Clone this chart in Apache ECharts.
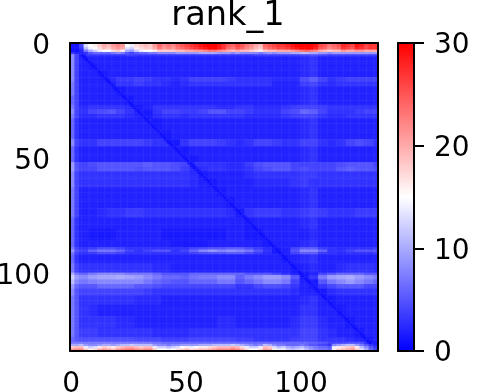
<!DOCTYPE html>
<html>
<head>
<meta charset="utf-8">
<style>html,body{margin:0;padding:0;background:#fff}#main{width:478px;height:392px}</style>
<script src="https://cdn.jsdelivr.net/npm/echarts@6/dist/echarts.min.js"></script>
</head>
<body>
<div id="main"></div>
<script>
var titleText = "rank_1";
var cellCount = 134;
var tickEvery = 50;
var colorMin = 0, colorMax = 30, colorStep = 10;

// top rows, read every 2 columns (0,2,4...132)
var rowTop0 = [1,1,4,13,15,16,18,20,19,21,22,21,15,14,17,18,19,18,21,24,22,23,22,24,25,26,27,28,29,30,30,30,29,27,25,24,26,25,23,22,20,19,24,25,26,27,27,28,29,30,30,30,30,29,26,25,23,24,25,28,27,26,29,28,26,27,27];
var rowTop2 = [1,1,3,11,14,15,17,19,18,20,21,20,13,12,16,17,18,18,20,23,21,22,21,23,24,25,26,27,28,29,30,30,29,27,24,23,25,24,22,21,19,18,23,24,25,26,26,27,28,29,30,30,30,28,25,24,22,23,24,27,26,25,28,27,26,27,27];
var rowTop3 = [1,1,2,7,10,12,14,15,15,17,18,16,10,9,12,14,15,15,16,18,18,18,18,19,19,20,20,21,21,22,23,23,22,21,20,19,20,19,19,18,17,16,18,19,19,20,20,20,21,22,23,24,23,22,20,19,18,19,19,21,20,20,21,21,20,20,20];
var rowTop4 = [3,2,2,3,5,6,6,6,6,7,8,7,5,4,5,6,6,7,7,8,8,8,8,9,9,9,9,9,10,10,10,10,9,9,9,8,9,8,8,8,8,7,8,9,8,9,9,9,10,10,11,11,10,10,9,9,8,9,9,9,9,9,9,9,9,9,9];

// bottom rows, same column step
var rowBottom131 = [10,10,11,9,8,8,9,10,10,9,10,11,11,12,11,11,11,11,9,8,8,7,8,8,9,9,9,9,10,10,10,11,11,11,11,12,11,10,9,8,7,8,11,10,8,7,7,6,6,6,7,6,5,5,4,4,3,8,9,10,11,11,9,7,5,3,2];
var rowBottom132 = [18,19,19,14,12,13,16,18,17,16,18,19,20,20,19,18,19,19,14,12,12,11,12,13,15,16,14,15,16,16,17,18,19,19,19,20,19,17,14,12,12,14,19,18,13,11,12,10,9,10,11,9,8,7,6,6,5,14,16,17,18,19,16,11,8,5,3];
var rowBottom133 = [21,22,22,18,16,17,20,21,20,19,21,22,23,23,22,21,22,22,18,15,15,14,15,17,18,19,17,18,19,19,20,21,22,22,22,23,22,20,17,15,15,17,21,20,16,14,14,12,11,12,13,11,9,8,7,7,6,16,18,19,20,21,18,13,10,6,4];

// body of the matrix: first row of each block of rows
var bodyRowStarts = [5,6,9,12,15,17,19,23,27,29,31,33,38,42,45,49,52,54,56,59,63,67,72,76,81,86,89,90,91,92,96,100,101,103,105,107,110,114,119,124,128,130];
// first column of each block of columns
var bodyColStarts = [0,2,4,8,12,16,20,24,28,32,36,40,44,48,52,56,60,64,68,72,76,80,84,88,92,96,100,104,108,112,116,120,124,128,132];
var bodyRows = [
[8,4,3,3,3,3,3,3.5,3,3,3,3,3,3,3,3,3,3,3,3,3,3.5,3.5,3.5,3.5,3.5,4,4.5,4,3.5,3.5,3.5,3.5,3.5,3.5],
[8,4,2,2,2,2,2,2,2,2,2,2,2,2,2,2,2,2,2,2,2,2,2,2,2,2,2.5,3,2,2,2,2,2,2,2],
[8,4,2,1.5,2,2,2,2,2,2,2,2,2,2,2,2,2,2,2,2,2,2,2,2,2,2,2.5,3,2,2,2,2,2,2,2],
[8,4,2,2,1.5,2,2,2,2,2,2,2,2,2,2,2,2,2,2,2,2,2,2,2,2,2,2.5,3,2,2,2,2,2,2,2],
[8,4,2,2,2,2.5,3.5,3.5,4,3.5,3,3,2.5,3,4,4,4,4,3.5,3,3,3,3,2.5,2.5,2.5,4.5,5.5,4,3,3.5,4,4,4,4],
[7,4,2,2,2,2,3,3,3.5,3,3,2.5,2,2.5,3,3,3,3,3,3,3,3,3,2,2,2,3.5,4,3,2.5,3,3,3,3,3],
[7,4,2,2,2,2,1.5,2,2,2,2,2,2,2,2,2,2,2,2,2,2,2,2,2,2,2,2.5,3,2,2,2,2,2,2,2],
[6,4,2,2,2,2,2,1.5,2,2,2,2,2,2,2,2,2,2,2,2,2,2,2,2,2,2,2.5,3,2,2,2,2,2,2,2],
[7,4,2.5,3,3,3,3,2.5,1.5,2,3,3,3,3,3,3,3,2.5,2.5,3,3,2.5,2.5,2.5,3,3.5,4,4,3.5,3,3,3,3,3,3],
[8,4,3,4,4.5,5,4,3,2,1.5,3,4,4,3.5,3.5,4,5,5,4,4,3.5,3,3,3,4,4.5,6,5.5,4,3,3,3,3.5,4,4],
[7,4,2.5,2.5,3,3,3,2.5,2,1.5,2.5,3,3,2.5,3,3,3,3,3,3,2.5,2.5,2.5,2.5,3,3.5,4,4,3,2.5,2.5,3,3,3,3],
[6,3,2,2,2,2,2,2,2,2,1.5,2,2,2,2,2,2,2,2,2,2,2,2,2,2,2,2.5,3,2,2,2,2,2,2,2],
[6,3,2,2,2,2,2,2,2,2,2,1.5,2,2,2,2,2,2,2,2,2,2,2,2,2,2,2.5,3,2,2,2,2,2,2,2],
[8,4,3,3,4,4,4,4,4,3.5,3,3,1.5,3,4,4,4,3.5,3,2.5,3,4,4,3.5,3,3,4,4,3,2.5,3,4,4.5,4,3],
[6,3,2,2,2,2,2,2,2,2,2,2,2,1.5,2,2,2,2,2,2,2,2,2,2,2,2,2.5,3,2,2,2,2,2,2,2],
[6,3,2,2,2,2,2,2,2,2,2,2,2,2,1.5,2,2,2,2,2,2,2,2,2,2,2,2.5,3,2,2,2,2,2,2,2],
[9,5,4,4.5,5,5,5,5,5,5.5,5,5,4.5,4,3,3,3,3,2.5,2.5,3.5,4.5,5,5,5,4,4,4,4,4,4.5,5,5,5,4],
[9,5,4,4,5,5,5,5,4.5,5,5,5,4.5,3.5,2.5,2.5,3,3,2.5,2.5,3,4,4.5,5,5,4,4.5,4,4,4,5,5.5,5,5,4.5],
[8,4,3,3,3,3,3,3,3,3,3,3,3,3,2.5,1.5,2,2,2,2,2.5,3,3,3,3,3,3.5,3.5,3,3,3,3,3,3,3],
[8,4,3,3,3,3,3,3,3,3,3,3,3,3,2.5,2,1.5,2,2,2,2,2.5,2.5,2.5,2.5,3,3.5,3,3,3,3,3,3,3,3],
[7,4,2,2,2,2,2,2,2,2,2,2,2,2,2,2,2,1.5,2,2,2,2,2,2,2,2,2.5,3,2,2,2,2,2,2,2],
[7,4,2,2,2,2,2,2,2,2,2,2,2,2,2,2,2,2,1.5,2,2,2,2,2,2,2,2.5,3,2,2,2,2,2,2,2],
[7,4,2,2,2.5,3,3,3.5,3.5,3,3,3,3,3,3,3,3,3,2.5,1.5,3,3.5,3.5,3.5,3,3,3.5,4,3.5,3,3,3,3.5,3.5,3.5],
[6,3,2,2,2,2,2,2,2,2,2,2,2,2,2,2,2,2,2,2,1.5,2,2,2,2,2,2.5,3,2,2,2,2,2,2,2],
[6,3,2,1.5,1.5,1.5,2,2,2,2,2,1.5,1.5,1.5,1.5,1.5,1.5,1.5,2,2,1.5,1.5,2,2,2,2,2,2.5,2,2,2,2,2,2,2],
[6,3,2,2,2,2,2,2,2,2,2,2,1.5,1.5,1.5,1.5,2,2,2,2,2,2,1.5,2,2,2,2.5,3,2,2,2,2,2,2,2],
[7,4,3,3.5,4.5,4.5,4,3,3,3,3,3,3,3,4,4.5,5,5,5.5,5.5,4.5,3.5,2.5,1.5,2,4,5.5,5.5,3.5,3,2.5,3,3,3,3.5],
[9,5,4,6,7,7,6,4,3,4,5,5,3,4,6,8,9,8,8.5,8,7,5,3,1.5,2,5,8,8,6,3,3,4,5,5,5],
[7,4,3,3.5,4.5,4.5,4,3,3,3,3,3,3,3,4,4.5,5,5,5.5,5.5,4.5,3.5,2.5,1.5,2,4,5.5,5.5,3.5,3,2.5,3,3,3,3.5],
[6,3,2,2,2,2,2,2,2,2,2,2,2,2,2,2,2,2,2,2,2,2,2,2,1.5,2,2.5,3,2,2,2,2,2,2,2],
[7,4,3,3,3,3,3,3,3,3,2.5,2.5,2,2,2,2,2,2,2,2,2,2,2,2,2,1.5,2,2.5,2,2,2.5,3,3,3,2.5],
[10,7,6,7,8,8,8,7,7,7,6,5,5,5,6,6,6,6,6,6,5,5,5,4,3,2,1.5,2,4,5,6,6,6,5,5],
[12,9,8,9,9.5,9.5,10,9.5,9,8,7,6,6,5.5,6.5,7,7,8,8,5.5,7,8,9,9,8,5,1.5,3,7,9,9.5,10,9,8,7],
[11,8,7,7.5,8,8,8,8,8,7,6,5.5,5,5,6,6,6,7,7,5,6,7,8,8,7,4,2,1.5,5,7,8,9,8,7,6],
[9,6,5,5,6,6,6,6,5,5,4.5,4,4,4,4,4,4,4,4,3,3,4,4.5,4.5,4,3,2,1.5,3,4,5,5,5,4,4],
[8,5,4,4,4,4,4,4,4,3.5,3,3,3,3,3,3,3,3,3,3,3,3,3,3,3,2.5,2,2,1.5,2.5,3,3,3,3,3],
[7,5,3,3,3,3,3,3,2.5,2.5,2.5,2,2,2,2,2,2,2,2,2,2,2,2,2,2,2,2.5,3,2,1.5,2,2,2,2,2],
[7,5,3,2.5,2,2,2,2,2,2,2,2,2,2,2,2,2,2,2,2,2,2,2,2,2,2,3,3,2,2,1.5,2,2,2,2],
[7,5,3,3,3,3,2.5,2.5,2,2,2,2,2,2,2,2,2,2.5,2.5,2,2,2,2,2,2,2.5,3.5,3.5,2.5,2,2,1.5,2,2,2],
[7,5,3.5,3.5,3,3,3,3,3,3,2.5,2.5,2.5,2.5,3,3,3,3,3,3,3,3,3,3,3,3,4,4,3,2.5,2,2,1.5,2,2],
[6,5,4.5,4.5,4.5,4.5,4.5,4.5,4,4,4,3.5,3.5,3.5,4,4,4,4,4,3.5,3.5,3,3,3,3,3.5,4,4,3,3,3,2.5,2,1.5,2],
[7,7,7,7,7,7,7,7,7,7,6.5,6,6,6,6,6,6,6,6,6,6,6,6,6,6,6,6,5.5,5,4,4,4.5,4.5,3,1.5]
];

// the dark line along the diagonal, read in steps of 10 rows
var diagonalLevels = [0.6,0.7,0.7,0.8,0.7,0.7,0.8,0.7,0.7,0.6,0.7,0.7,0.6,0.6];
var offDiagonalLevels = [1.5,1.6,1.6,1.7,1.6,1.6,1.7,1.6,1.5,1.5,1.5,1.6,1.6,1.5];

var chartData = [];
var labels = [];
for (var n = 0; n < cellCount; n++) labels.push(String(n));

function topOrBottomRow(r) {
	if (r < 2) return rowTop0;
	if (r == 2) return rowTop2;
	if (r == 3) return rowTop3;
	if (r == 4) return rowTop4;
	if (r == 131) return rowBottom131;
	if (r == 132) return rowBottom132;
	if (r == 133) return rowBottom133;
	return null;
}
function blockIndex(starts, v) {
	var k = 0;
	while (k + 1 < starts.length && starts[k + 1] <= v) k++;
	return k;
}
for (var r = 0; r < cellCount; r++) {
	var edgeRow = topOrBottomRow(r);
	for (var c = 0; c < cellCount; c++) {
		var v;
		if (edgeRow) {
			v = edgeRow[Math.floor(c / 2)];
		} else {
			v = bodyRows[blockIndex(bodyRowStarts, r)][blockIndex(bodyColStarts, c)];
			var band = Math.floor(r / 10);
			if (r == c) v = diagonalLevels[band];
			else if (Math.abs(r - c) == 1) v = offDiagonalLevels[band];
		}
		chartData.push([c, r, v]);
	}
}

var black = "#000";
var fontName = "DejaVu Sans";
function showTick(index) { return index % tickEvery == 0; }

var myChart = echarts.init(document.getElementById("main"), null, {renderer: "canvas"});
var option = {
	animation: false,
	backgroundColor: "#fff",
	title: {
		text: titleText,
		left: 223,
		top: -6,
		textAlign: "center",
		textStyle: {fontFamily: fontName, fontSize: 33.6, fontWeight: "normal", color: black}
	},
	grid: [
		{left: 70, top: 43, width: 308, height: 308, outerBoundsMode: "none"},
		{left: 398, top: 43, width: 16, height: 308, outerBoundsMode: "none"}
	],
	xAxis: [
		{
			type: "category", gridIndex: 0, data: labels, position: "bottom", z: 5,
			axisLine: {onZero: false, lineStyle: {color: black, width: 2}},
			axisTick: {alignWithLabel: true, length: 10, interval: function (i) { return showTick(i); }, lineStyle: {color: black, width: 2}},
			axisLabel: {interval: function (i) { return showTick(i); }, fontFamily: fontName, fontSize: 28, color: black, margin: 20},
			splitLine: {show: false}
		},
		{
			type: "category", gridIndex: 0, data: labels, position: "top", z: 5,
			axisLine: {onZero: false, lineStyle: {color: black, width: 2}},
			axisTick: {show: false}, axisLabel: {show: false}, splitLine: {show: false}
		},
		{
			type: "value", gridIndex: 1, min: 0, max: 1, position: "bottom", z: 10,
			axisLine: {show: true, onZero: false, lineStyle: {color: black, width: 2}},
			axisTick: {show: false}, axisLabel: {show: false}, splitLine: {show: false}
		},
		{
			type: "value", gridIndex: 1, min: 0, max: 1, position: "top", z: 10,
			axisLine: {show: true, onZero: false, lineStyle: {color: black, width: 2}},
			axisTick: {show: false}, axisLabel: {show: false}, splitLine: {show: false}
		}
	],
	yAxis: [
		{
			type: "category", gridIndex: 0, data: labels, inverse: true, position: "left", z: 5,
			axisLine: {onZero: false, lineStyle: {color: black, width: 2}},
			axisTick: {alignWithLabel: true, length: 10, interval: function (i) { return showTick(i); }, lineStyle: {color: black, width: 2}},
			axisLabel: {interval: function (i) { return showTick(i); }, fontFamily: fontName, fontSize: 28, color: black, margin: 20, verticalAlign: "top", lineHeight: 6},
			splitLine: {show: false}
		},
		{
			type: "category", gridIndex: 0, data: labels, inverse: true, position: "right", z: 5,
			axisLine: {onZero: false, lineStyle: {color: black, width: 2}},
			axisTick: {show: false}, axisLabel: {show: false}, splitLine: {show: false}
		},
		{
			type: "value", gridIndex: 1, min: colorMin, max: colorMax, position: "left", z: 10,
			axisLine: {show: true, onZero: false, lineStyle: {color: black, width: 2}},
			axisTick: {show: false}, axisLabel: {show: false}, splitLine: {show: false}
		},
		{
			type: "value", gridIndex: 1, min: colorMin, max: colorMax, interval: colorStep, position: "right", z: 10,
			axisLine: {show: true, onZero: false, lineStyle: {color: black, width: 2}},
			axisTick: {show: true, length: 10, lineStyle: {color: black, width: 2}},
			axisLabel: {fontFamily: fontName, fontSize: 28, color: black, margin: 20, verticalAlign: "top", lineHeight: 6},
			splitLine: {show: false}
		}
	],
	visualMap: {
		type: "continuous",
		min: colorMin,
		max: colorMax,
		seriesIndex: 0,
		calculable: false,
		showLabel: false,
		text: null,
		left: 398,
		top: 43,
		itemWidth: 16,
		itemHeight: 308,
		padding: 0,
		inRange: {color: ["#0000ff", "#ffffff", "#ff0000"]}
	},
	series: [
		{
			type: "heatmap",
			xAxisIndex: 0,
			yAxisIndex: 0,
			data: chartData,
			progressive: 0,
			emphasis: {disabled: true},
			silent: true
		},
		{
			type: "line",
			xAxisIndex: 2,
			yAxisIndex: 2,
			data: [],
			silent: true
		}
	]
};
myChart.setOption(option);
</script>
</body>
</html>
